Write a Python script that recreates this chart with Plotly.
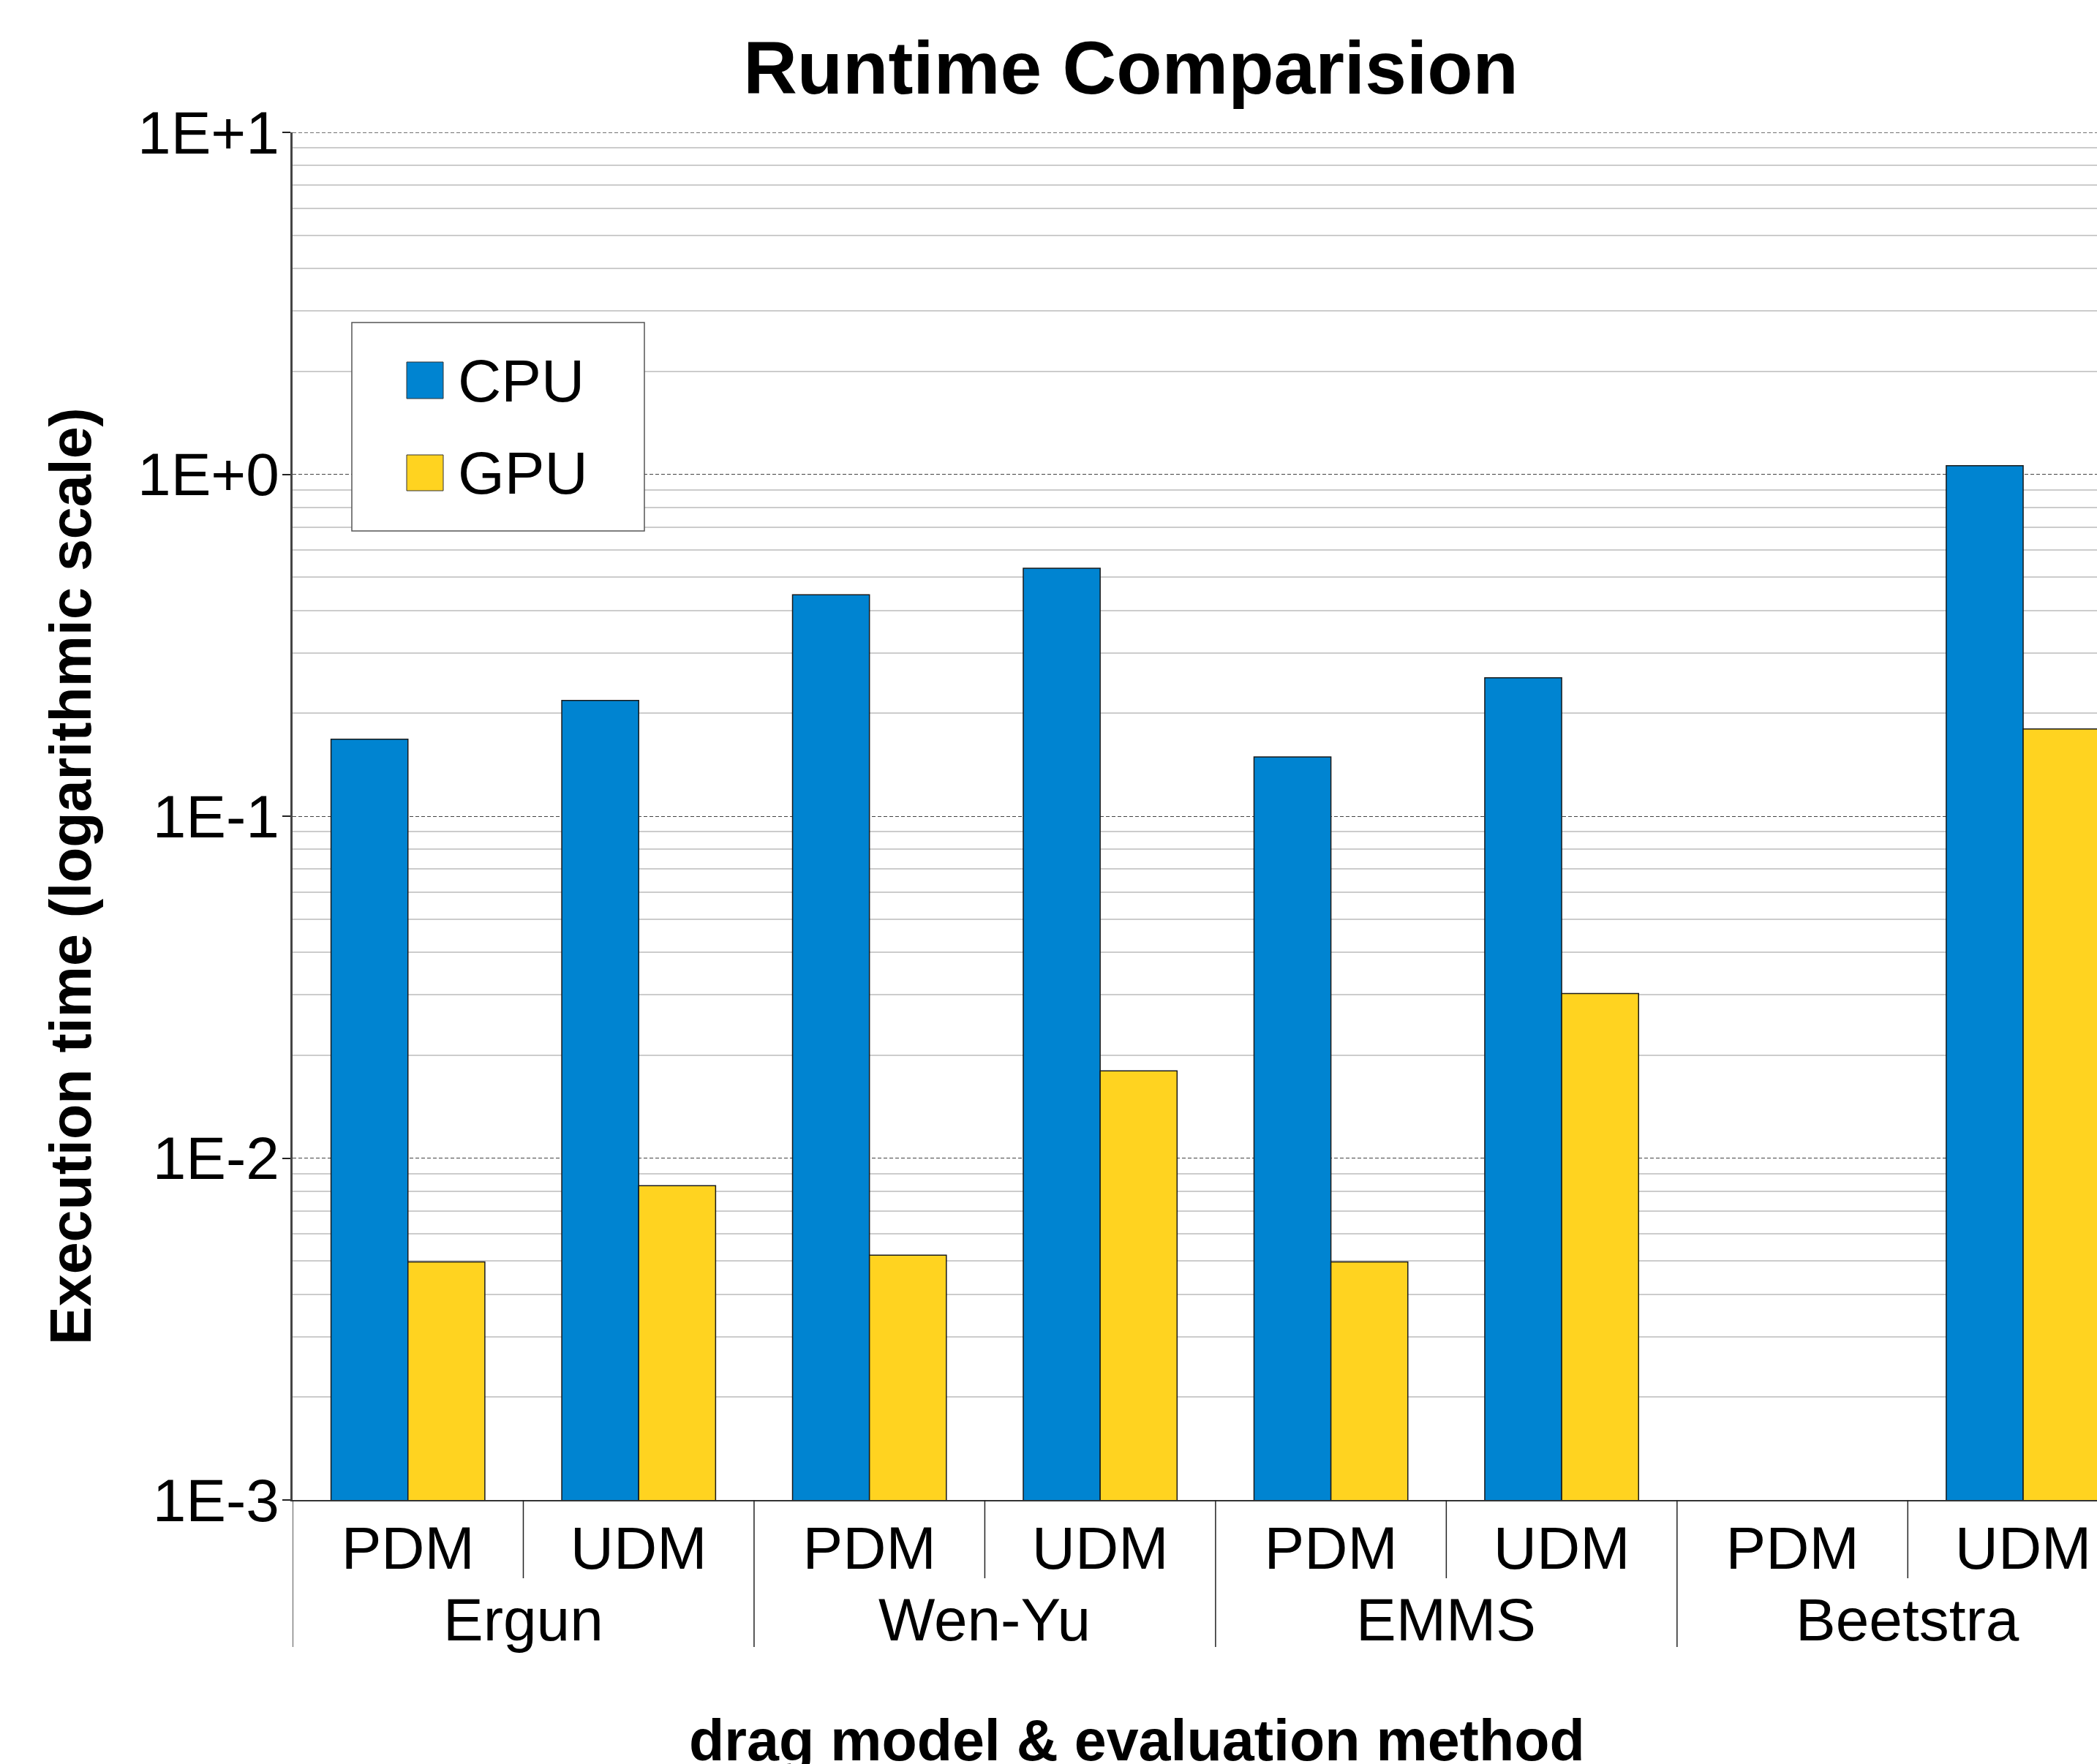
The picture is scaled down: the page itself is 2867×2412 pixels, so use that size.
import plotly.graph_objects as go

# ---------------- data ----------------
groups = ["Ergun", "Ergun", "Wen-Yu", "Wen-Yu", "EMMS", "EMMS", "Beetstra", "Beetstra"]
methods = ["PDM", "UDM", "PDM", "UDM", "PDM", "UDM", "PDM", "UDM"]
group_names = ["Ergun", "Wen-Yu", "EMMS", "Beetstra"]
cpu_time = [0.168, 0.218, 0.444, 0.531, 0.149, 0.254, None, 1.06]
gpu_time = [0.00497, 0.0083, 0.0052, 0.0180, 0.00497, 0.0303, None, 0.180]
y_tick_vals = [1e-3, 1e-2, 1e-1, 1e0, 1e1]
y_tick_text = ["1E-3", "1E-2", "1E-1", "1E+0", "1E+1"]
series_names = ["CPU", "GPU"]
series_colors = ["#0084d1", "#ffd320"]

# ---------------- geometry helpers (layout only) ----------------
W, H = 2867, 2412
L, R, T, B = 400, 0, 181, 361
PW, PH = W - L - R, H - T - B
FONT = "Liberation Sans"
FS = 82        # regular label size
FS_BOLD = 79   # axis title size


def px_x(px):
    return (px - L) / PW


def px_y(py):
    return (H - B - py) / PH


xpos = list(range(len(methods)))

fig = go.Figure()
for name, vals, col in zip(series_names, [cpu_time, gpu_time], series_colors):
    fig.add_trace(go.Bar(
        x=xpos, y=vals, name=name, showlegend=False,
        marker=dict(color=col, line=dict(color="#1a1a1a", width=1.5)),
    ))

# minor grid values for log axis
minor_vals = []
for dec in [1e-3, 1e-2, 1e-1, 1e0]:
    for m in range(2, 10):
        minor_vals.append(dec * m)

fig.update_layout(
    width=W, height=H,
    margin=dict(l=L, r=R, t=T, b=B, pad=0),
    paper_bgcolor="white", plot_bgcolor="white",
    barmode="group", bargap=1 / 3, bargroupgap=0,
    font=dict(family=FONT, size=FS, color="black"),
    title=dict(
        text="Runtime Comparision", x=1546 / W, xref="container", xanchor="center",
        y=1 - 92 / H, yref="container", yanchor="middle",
        font=dict(family=FONT, size=102, color="black", weight="bold"),
    ),
    xaxis=dict(
        range=[-0.5, 7.32], tickmode="array", tickvals=xpos, ticktext=methods,
        ticks="", showgrid=False, zeroline=False, showline=True,
        linecolor="#333333", linewidth=2,
        tickfont=dict(family=FONT, size=FS, color="black"),
        ticklabelstandoff=-6,
    ),
    yaxis=dict(
        type="log", range=[-3, 1], tickmode="array",
        tickvals=y_tick_vals, ticktext=y_tick_text,
        ticks="outside", ticklen=11, tickwidth=1.5, tickcolor="#222222",
        ticklabelstandoff=-12,
        showline=True, linecolor="#444444", linewidth=2.5,
        showgrid=True, gridcolor="#444444", gridwidth=1, griddash="5px,3px",
        zeroline=False,
        tickfont=dict(family=FONT, size=FS, color="black"),
        minor=dict(tickmode="array", tickvals=minor_vals, showgrid=True,
                   gridcolor="#cccccc", gridwidth=1.5, griddash="solid", ticks=""),
    ),
)

shapes = []
# top decade gridline (at the edge of the range, where plotly drops its grid)
shapes.append(dict(type="line", xref="paper", yref="y", x0=0, x1=1,
                   y0=y_tick_vals[-1], y1=y_tick_vals[-1], layer="below",
                   line=dict(color="#444444", width=1.5, dash="5px,3px")))
# short separators between PDM / UDM within a group
for i in range(len(methods) - 1):
    if groups[i] == groups[i + 1]:
        shapes.append(dict(type="line", xref="x", yref="paper",
                           x0=i + 0.5, x1=i + 0.5, y0=0, y1=px_y(2158),
                           line=dict(color="#222222", width=1.5)))
# long dividers between groups
for i in range(len(methods)):
    if i == 0 or groups[i] != groups[i - 1]:
        shapes.append(dict(type="line", xref="x", yref="paper",
                           x0=i - 0.5, x1=i - 0.5, y0=0, y1=px_y(2252),
                           line=dict(color="#222222", width=1.5)))

# manual legend (box + swatches)
shapes.append(dict(type="rect", xref="paper", yref="paper",
                   x0=px_x(481), x1=px_x(881), y0=px_y(441), y1=px_y(726),
                   line=dict(color="#555555", width=1.5), fillcolor="white", layer="above"))
legend_rows = [(495, 545, 520), (622, 671, 647)]
annotations = []
for (top, bot, mid), name, col in zip(legend_rows, series_names, series_colors):
    shapes.append(dict(type="rect", xref="paper", yref="paper",
                       x0=px_x(556), x1=px_x(606), y0=px_y(top), y1=px_y(bot),
                       line=dict(color="#333333", width=1), fillcolor=col, layer="above"))
    annotations.append(dict(text=name, xref="paper", yref="paper",
                            x=px_x(624), y=px_y(mid), xanchor="left", yanchor="middle",
                            showarrow=False, font=dict(family=FONT, size=FS, color="black")))

# group labels
for gi, g in enumerate(group_names):
    idx = [i for i, gg in enumerate(groups) if gg == g]
    center = sum(idx) / len(idx)
    annotations.append(dict(text=g, xref="x", yref="paper", x=center, y=px_y(2214),
                            xanchor="center", yanchor="middle", showarrow=False,
                            font=dict(family=FONT, size=FS, color="black")))

# axis titles
annotations.append(dict(text="Execution time (logarithmic scale)", xref="paper", yref="paper",
                        x=px_x(96), y=px_y(1198), xanchor="center", yanchor="middle",
                        textangle=-90, showarrow=False,
                        font=dict(family=FONT, size=FS_BOLD, color="black", weight="bold")))
annotations.append(dict(text="drag model &amp; evaluation method", xref="paper", yref="paper",
                        x=px_x(1554), y=px_y(2379), xanchor="center", yanchor="middle",
                        showarrow=False,
                        font=dict(family=FONT, size=FS_BOLD, color="black", weight="bold")))

fig.update_layout(shapes=shapes, annotations=annotations)
fig.write_html("out.html", config={"displayModeBar": False},
               post_script="document.body.style.margin='0';document.body.style.overflow='hidden';")
